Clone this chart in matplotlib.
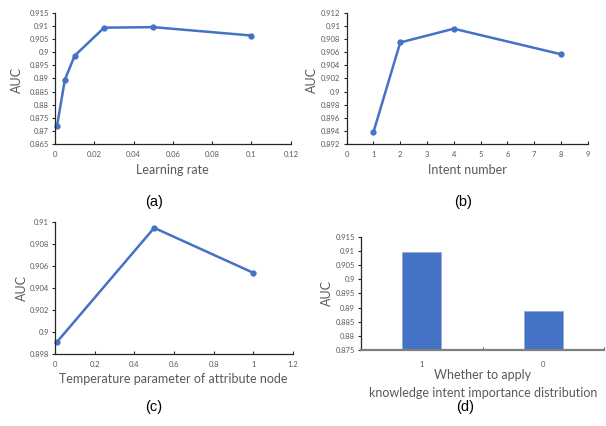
import matplotlib
matplotlib.use('Agg')
import matplotlib.pyplot as plt
from matplotlib.ticker import FuncFormatter, MultipleLocator

BLUE = '#4472C4'
GRAY = '#595959'

# (a) learning rate
lr_values = [0.001, 0.005, 0.01, 0.025, 0.05, 0.1]
lr_auc = [0.8718, 0.8895, 0.8987, 0.9094, 0.9096, 0.9064]

# (b) intent number
intent_values = [1, 2, 4, 8]
intent_auc = [0.8938, 0.9075, 0.9096, 0.9057]

# (c) temperature parameter
temp_values = [0.01, 0.5, 1]
temp_auc = [0.8991, 0.9095, 0.9054]

# (d) knowledge intent importance distribution
apply_labels = ['1', '0']
apply_auc = [0.9095, 0.8888]

plt.rcParams['font.family'] = ['Lato', 'DejaVu Sans']

fmt = FuncFormatter(lambda v, p: f'{round(v, 4):g}')


def style_axes(ax, ystep, ylim, xstep=None, xlim=None):
    for s in ['top', 'right']:
        ax.spines[s].set_visible(False)
    ax.spines['left'].set_color('#262626')
    ax.spines['bottom'].set_color('#262626')
    ax.spines['left'].set_linewidth(0.9)
    ax.spines['bottom'].set_linewidth(0.9)
    ax.set_ylim(*ylim)
    ax.yaxis.set_major_locator(MultipleLocator(ystep))
    ax.yaxis.set_major_formatter(fmt)
    if xstep is not None:
        ax.set_xlim(*xlim)
        ax.xaxis.set_major_locator(MultipleLocator(xstep))
        ax.xaxis.set_major_formatter(fmt)
    ax.tick_params(axis='y', direction='out', length=2.5, width=0.8,
                   labelsize=5.5, labelcolor=GRAY, color='#262626', pad=2)
    ax.tick_params(axis='x', direction='in', length=2.5, width=0.8,
                   labelsize=5.5, labelcolor=GRAY, color='#262626', pad=5)


def line_panel(ax, x, y):
    ax.plot(x, y, color=BLUE, lw=1.8, marker='o', ms=3.5, clip_on=False)


fig = plt.figure(figsize=(6.06, 4.26), dpi=100)

ax_a = fig.add_axes([0.0908, 0.662, 0.389, 0.3075])
line_panel(ax_a, lr_values, lr_auc)
style_axes(ax_a, 0.005, (0.865, 0.915), 0.02, (0, 0.12))

ax_b = fig.add_axes([0.572, 0.662, 0.398, 0.3075])
line_panel(ax_b, intent_values, intent_auc)
style_axes(ax_b, 0.002, (0.892, 0.912), 1, (0, 9))

ax_c = fig.add_axes([0.0908, 0.169, 0.3927, 0.309])
line_panel(ax_c, temp_values, temp_auc)
style_axes(ax_c, 0.002, (0.898, 0.91), 0.2, (0, 1.2))

ax_d = fig.add_axes([0.596, 0.178, 0.4007, 0.2664])
pos = list(range(len(apply_labels)))
ax_d.bar(pos, [v - 0.875 for v in apply_auc], bottom=0.875, width=0.32,
         color=BLUE, edgecolor='#8fabe0', linewidth=0.6)
style_axes(ax_d, 0.005, (0.875, 0.915))
ax_d.set_xlim(-0.5, 1.5)
ax_d.set_xticks(pos)
ax_d.set_xticklabels(apply_labels)
ax_d.set_xticks([0.5, 1.5], minor=True)
ax_d.tick_params(axis='x', which='major', length=0, pad=8)
ax_d.tick_params(axis='x', which='minor', direction='in', length=2.5,
                 color='#262626')
ax_d.spines['bottom'].set_color('#7f7f7f')
ax_d.spines['bottom'].set_linewidth(1.6)

# axis titles
lab = dict(fontsize=9, color=GRAY, ha='center', va='center')
fig.text(0.028, 0.812, 'AUC', rotation=90, **lab)
fig.text(0.515, 0.812, 'AUC', rotation=90, **lab)
fig.text(0.036, 0.324, 'AUC', rotation=90, **lab)
fig.text(0.540, 0.312, 'AUC', rotation=90, **lab)

fig.text(0.285, 0.601, 'Learning rate', **lab)
fig.text(0.771, 0.601, 'Intent number', **lab)
fig.text(0.286, 0.110, 'Temperature parameter of attribute node', **lab)
fig.text(0.797, 0.120, 'Whether to apply', **lab)
fig.text(0.797, 0.0775, 'knowledge intent importance distribution', **lab)

cap = dict(fontsize=10.5, color='black', ha='center', va='center',
           family='Liberation Sans')
fig.text(0.254, 0.526, '(a)', **cap)
fig.text(0.764, 0.526, '(b)', **cap)
fig.text(0.254, 0.0446, '(c)', **cap)
fig.text(0.767, 0.0446, '(d)', **cap)

fig.savefig('out.png', dpi=100)
